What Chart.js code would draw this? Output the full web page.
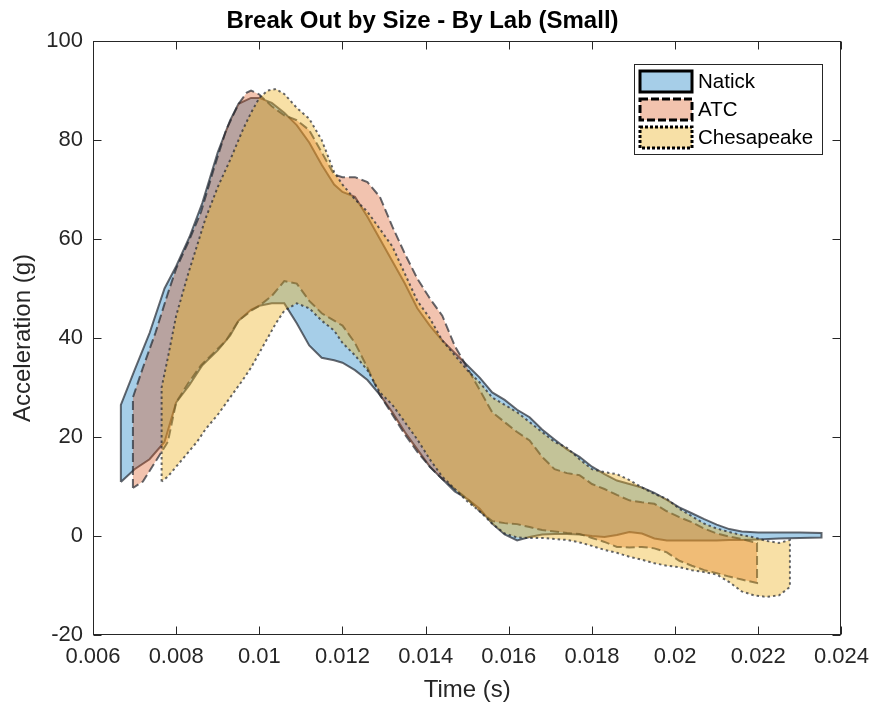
<!DOCTYPE html>
<html>
<head>
<meta charset="utf-8">
<title>Break Out by Size - By Lab (Small)</title>
<script src="https://cdn.jsdelivr.net/npm/chart.js@4.4.1/dist/chart.umd.min.js"></script>
<style>
  html, body { margin: 0; padding: 0; background: #fff; }
  #wrap { width: 878px; height: 713px; }
</style>
</head>
<body>
<div id="wrap"><canvas id="labChart" width="878" height="713"></canvas></div>
<script>
// band limits per lab (time in s, acceleration in g)
const labNames = ["Natick", "ATC", "Chesapeake"];

const natickTime = [0.00667, 0.0070, 0.00736, 0.00772, 0.0080, 0.00832, 0.00863, 0.0090, 0.0093, 0.0095,
  0.0098, 0.0100, 0.0103, 0.0106, 0.0109, 0.0112, 0.0115, 0.0118, 0.0120, 0.0123,
  0.0126, 0.0129, 0.0132, 0.0135, 0.0138, 0.0141, 0.0144, 0.0147, 0.0150, 0.0153,
  0.0156, 0.0159, 0.0162, 0.0165, 0.0168, 0.0171, 0.0174, 0.0177, 0.0180, 0.0183,
  0.0186, 0.0189, 0.0192, 0.0195, 0.0198, 0.0201, 0.0204, 0.0207, 0.0210, 0.0213,
  0.0216, 0.0220, 0.0225, 0.0230, 0.02352];
const natickUpper = [26.5, 33.5, 41, 50, 54.5, 60.4, 67.3, 77.5, 84, 87.3,
  88.5, 88.5, 87.5, 85.5, 83, 79.5, 75, 71, 69.5, 68.5,
  64.5, 60, 55.5, 51, 46, 42.5, 39.5, 37, 34.5, 32,
  29, 27.5, 25.5, 24, 21.5, 19.5, 17.5, 16, 14, 12.5,
  11.2, 10.5, 9.8, 8.7, 7.3, 5.8, 4.6, 3.4, 2.3, 1.4,
  0.9, 0.7, 0.7, 0.7, 0.6];
const natickLower = [10.9, 13.5, 15.5, 19, 27, 30.5, 34.5, 37.5, 40.5, 43.5,
  45.7, 46.5, 47, 47, 43, 38.5, 36, 35.5, 35, 33.5,
  31.5, 28.5, 25, 21, 17.5, 14, 11.5, 9, 7.5, 5.5,
  2.5, 0.3, -0.9, -0.2, 0.3, 0.4, 0.4, 0.3, 0, -0.2,
  0.2, 0.8, 0.5, -0.5, -0.9, -0.9, -0.9, -0.9, -0.9, -0.8,
  -0.8, -0.7, -0.5, -0.4, -0.3];

const atcTime = [0.00696, 0.0072, 0.0075, 0.0078, 0.0080, 0.0083, 0.0086, 0.0089, 0.0092, 0.0095,
  0.0097, 0.0098, 0.0100, 0.0103, 0.0106, 0.0109, 0.0112, 0.0115, 0.0118, 0.0120,
  0.0123, 0.0126, 0.0129, 0.0132, 0.0135, 0.0138, 0.0141, 0.0144, 0.0147, 0.0150,
  0.0153, 0.0156, 0.0159, 0.0162, 0.0165, 0.0168, 0.0171, 0.0174, 0.0177, 0.0180,
  0.0183, 0.0186, 0.0189, 0.0192, 0.0195, 0.0198, 0.0201, 0.0204, 0.0207, 0.0210,
  0.0213, 0.0216, 0.02197];
const atcUpper = [28, 34, 41, 49, 54, 59.5, 65.5, 74, 82, 87.3,
  89.6, 90, 89.2, 86.8, 85, 84, 82, 77.5, 73, 72.5,
  72.5, 71.5, 68.5, 62.5, 57, 52, 48, 44.5, 38.4, 34,
  29.5, 25, 23, 21, 19.3, 16, 13.5, 12.7, 12.3, 10.5,
  9.5, 8.3, 7.2, 6.8, 6.5, 5, 3.8, 2.8, 1.5, 0.5,
  -0.1, -0.6, -1.4];
const atcLower = [9.7, 11, 15, 19, 27, 31, 34.5, 37, 39.5, 43.5,
  44.8, 45.5, 46.5, 48.5, 51.5, 51, 47.5, 45, 43.5, 42.5,
  39, 34, 28.5, 24.5, 20.5, 17, 14, 11.5, 9.5, 7.5,
  5, 3, 2.6, 2.4, 1.8, 1.2, 0.9, 0.6, 0.4, -0.4,
  -1.2, -2.2, -2.3, -2.2, -2.5, -3.3, -5, -6, -6.9, -7.5,
  -8.2, -8.8, -9.5];

const chesTime = [0.00765, 0.0078, 0.0080, 0.0083, 0.0085, 0.0087, 0.0090, 0.0093, 0.0096, 0.0098,
  0.0100, 0.0102, 0.0104, 0.0106, 0.0109, 0.0112, 0.0115, 0.0118, 0.0120, 0.0123,
  0.0126, 0.0129, 0.0132, 0.0135, 0.0138, 0.0141, 0.0144, 0.0147, 0.0150, 0.0153,
  0.0156, 0.0159, 0.0162, 0.0165, 0.0168, 0.0171, 0.0174, 0.0177, 0.0180, 0.0183,
  0.0186, 0.0189, 0.0192, 0.0195, 0.0198, 0.0201, 0.0204, 0.0207, 0.0210, 0.0213,
  0.0216, 0.0219, 0.0222, 0.0225, 0.02276];
const chesUpper = [30, 36, 44.5, 53.3, 58.6, 64, 70.5, 76, 82, 85.5,
  88.5, 90, 90.3, 89.3, 86.5, 84.3, 80, 73.5, 71, 68,
  65.5, 62, 58.5, 53, 47.5, 44, 39.5, 36.5, 33.5, 31,
  28, 26.5, 25, 23, 21, 19, 17.8, 15.5, 13.5, 12.9,
  12.5, 11.3, 9.8, 8.5, 7.5, 5.5, 4, 2.5, 1.5, 0.8,
  0.2, -0.3, -1, -1.4, -0.8];
const chesLower = [11, 12, 14, 17, 19, 21.5, 24.5, 28, 31.5, 34,
  37, 40, 43, 45.5, 47, 46, 43.5, 41.5, 39, 36.5,
  33.5, 29, 26.5, 23, 19.5, 15.5, 12, 9.5, 7, 5,
  2.5, 0.5, -0.3, -0.4, -0.4, -0.6, -0.8, -1.3, -2, -2.8,
  -3.4, -4.2, -4.8, -5.5, -6, -6.3, -6.9, -7.3, -7.8, -9.3,
  -11.2, -12, -12.3, -12, -10.3];

const xTickValues = [0.006, 0.008, 0.01, 0.012, 0.014, 0.016, 0.018, 0.02, 0.022, 0.024];
const xTickLabels = ["0.006", "0.008", "0.01", "0.012", "0.014", "0.016", "0.018", "0.02", "0.022", "0.024"];
const yTickValues = [-20, 0, 20, 40, 60, 80, 100];
const yTickLabels = ["-20", "0", "20", "40", "60", "80", "100"];

const fillColors = ["rgba(0,114,189,0.35)", "rgba(217,83,25,0.35)", "rgba(237,177,32,0.4)"];
const swatchColors = ["#a6cee8", "#f2c3ae", "#f7e0a6"];
const edgeColor = "rgba(35,40,48,0.7)";
const edgeDashes = [[], [9, 4], [2.5, 3]];
const axisColor = "#262626";
const fontFamily = "'Liberation Sans', Arial, Helvetica, sans-serif";

// closed outline: left cap, upper edge, right cap, lower edge back
function bandOutline(time, upper, lower) {
  const pts = [{ x: time[0], y: lower[0] }];
  for (let i = 0; i < time.length; i++) pts.push({ x: time[i], y: upper[i] });
  for (let i = time.length - 1; i >= 0; i--) pts.push({ x: time[i], y: lower[i] });
  return pts;
}

const bands = [
  bandOutline(natickTime, natickUpper, natickLower),
  bandOutline(atcTime, atcUpper, atcLower),
  bandOutline(chesTime, chesUpper, chesLower)
];

const datasets = bands.map((pts, i) => ({
  label: labNames[i],
  data: pts,
  showLine: true,
  fill: "shape",
  backgroundColor: fillColors[i],
  borderColor: edgeColor,
  borderWidth: 2,
  borderDash: edgeDashes[i],
  pointRadius: 0,
  pointHoverRadius: 0,
  tension: 0,
  order: 3 - i
}));

// matlab style box with ticks pointing inward
const axesBox = {
  id: "axesBox",
  afterDraw(chart) {
    const { ctx, chartArea: a, scales: { x, y } } = chart;
    const L = Math.round(a.left) + 0.5, R = Math.round(a.right) - 0.5;
    const T = Math.round(a.top) + 0.5, B = Math.round(a.bottom) - 0.5;
    ctx.save();
    ctx.strokeStyle = axisColor;
    ctx.lineWidth = 1;
    ctx.setLineDash([]);
    ctx.strokeRect(L, T, R - L, B - T);
    ctx.beginPath();
    xTickValues.forEach(v => {
      const px = Math.round(x.getPixelForValue(v)) + 0.5;
      ctx.moveTo(px, B); ctx.lineTo(px, B - 8);
      ctx.moveTo(px, T); ctx.lineTo(px, T + 8);
    });
    yTickValues.forEach(v => {
      const py = Math.round(y.getPixelForValue(v)) + 0.5;
      ctx.moveTo(L, py); ctx.lineTo(L + 8, py);
      ctx.moveTo(R, py); ctx.lineTo(R - 8, py);
    });
    ctx.stroke();
    ctx.restore();
  }
};

const boxLegend = {
  id: "boxLegend",
  afterDraw(chart) {
    const ctx = chart.ctx;
    const left = 634, top = 64, w = 189, h = 91;
    ctx.save();
    ctx.fillStyle = "#fff";
    ctx.fillRect(left, top, w, h);
    ctx.strokeStyle = axisColor;
    ctx.lineWidth = 1;
    ctx.strokeRect(left + 0.5, top + 0.5, w - 1, h - 1);
    ctx.font = "20.5px " + fontFamily;
    ctx.textBaseline = "middle";
    labNames.forEach((name, i) => {
      const cy = top + 17 + i * 28;
      ctx.fillStyle = swatchColors[i];
      ctx.fillRect(640, cy - 10, 52, 21);
      ctx.strokeStyle = "#000";
      ctx.lineWidth = 3;
      ctx.setLineDash(i === 0 ? [] : (i === 1 ? [8, 3] : [3, 2]));
      ctx.strokeRect(640, cy - 10, 52, 21);
      ctx.setLineDash([]);
      ctx.fillStyle = "#000";
      ctx.fillText(name, 698, cy + 1);
    });
    ctx.restore();
  }
};

Chart.defaults.font.family = fontFamily;
Chart.defaults.color = axisColor;

new Chart(document.getElementById("labChart").getContext("2d"), {
  type: "scatter",
  data: { datasets: datasets },
  options: {
    responsive: false,
    animation: false,
    devicePixelRatio: 1,
    layout: { padding: { left: 0, right: 33, top: 0, bottom: 0 } },
    plugins: {
      legend: { display: false },
      tooltip: { enabled: false },
      title: {
        display: true,
        text: "Break Out by Size - By Lab (Small)",
        color: "#000",
        font: { size: 24, weight: "bold" },
        padding: { top: 6.6, bottom: 5.6 }
      }
    },
    scales: {
      x: {
        type: "linear",
        min: 0.006,
        max: 0.024,
        afterBuildTicks: s => { s.ticks = xTickValues.map(v => ({ value: v })); },
        afterFit: s => { s.height = 78; },
        grid: { display: false, drawTicks: false },
        border: { display: false },
        ticks: {
          padding: 9,
          font: { size: 22 },
          color: axisColor,
          maxRotation: 0,
          autoSkip: false,
          callback: (v, i) => xTickLabels[i]
        },
        title: {
          display: true,
          text: "Time (s)",
          font: { size: 24 },
          color: axisColor,
          padding: { top: 0, bottom: 8.6 }
        }
      },
      y: {
        type: "linear",
        min: -20,
        max: 100,
        afterBuildTicks: s => { s.ticks = yTickValues.map(v => ({ value: v })); },
        afterFit: s => { s.width = 93; },
        grid: { display: false, drawTicks: false },
        border: { display: false },
        ticks: {
          padding: 10,
          font: { size: 22 },
          color: axisColor,
          autoSkip: false,
          callback: (v, i) => yTickLabels[i]
        },
        title: {
          display: true,
          text: "Acceleration (g)",
          font: { size: 24 },
          color: axisColor,
          padding: { top: 8.6, bottom: 0 }
        }
      }
    }
  },
  plugins: [axesBox, boxLegend]
});
</script>
</body>
</html>
